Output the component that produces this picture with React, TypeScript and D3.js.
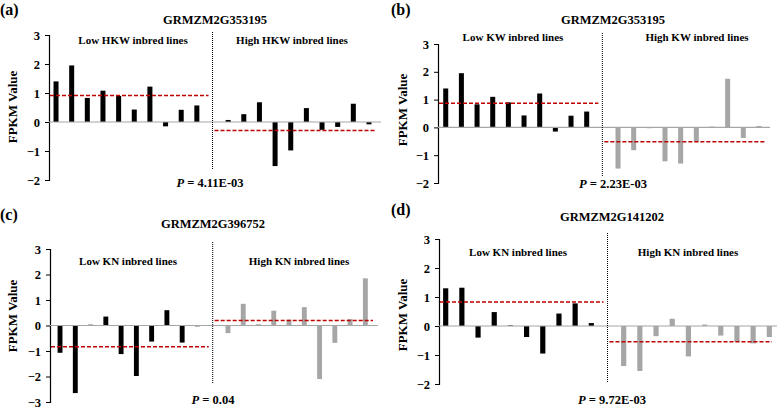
import React, { useEffect, useRef } from 'react';
import * as d3 from 'd3';

// panel texts
const panelTags = ['(a)', '(b)', '(c)', '(d)'];
const geneIds = ['GRMZM2G353195', 'GRMZM2G353195', 'GRMZM2G396752', 'GRMZM2G141202'];
const lowLabels = ['Low HKW inbred lines', 'Low KW inbred lines', 'Low KN inbred lines', 'Low KN inbred lines'];
const highLabels = ['High HKW inbred lines', 'High KW inbred lines', 'High KN inbred lines', 'High KN inbred lines'];
const pValues = ['4.11E-03', '2.23E-03', '0.04', '9.72E-03'];
const yLabel = 'FPKM Value';

// FPKM values
const lowA = [1.4, 1.95, 0.83, 1.08, 0.9, 0.43, 1.22, -0.15, 0.42, 0.57];
const highA = [0.07, 0.27, 0.68, -1.52, -0.98, 0.48, -0.27, -0.17, 0.63, -0.08];
const lowB = [1.4, 1.95, 0.83, 1.1, 0.9, 0.43, 1.22, -0.15, 0.42, 0.57];
const highB = [-1.48, -0.82, -0.03, -1.22, -1.3, -0.52, 0.03, 1.75, -0.38, 0.05];
const lowC = [-1.07, -2.65, 0.03, 0.35, -1.12, -1.98, -0.63, 0.6, -0.67, -0.03];
const highC = [-0.3, 0.85, 0.05, 0.58, 0.23, 0.72, -2.1, -0.68, 0.25, 1.85];
const lowD = [1.3, 1.32, -0.4, 0.48, 0.02, -0.38, -0.95, 0.43, 0.78, 0.1];
const highD = [-1.38, -1.55, -0.35, 0.25, -1.05, 0.05, -0.33, -0.55, -0.6, -0.38];

// group mean lines
const lowMeans = [0.91, 0.87, -0.83, 0.83];
const highMeans = [-0.29, -0.52, 0.2, -0.54];

const ticksABD = [3, 2, 1, 0, -1, -2];
const ticksC = [3, 2, 1, 0, -1, -2, -3];

const lowSeries = [lowA, lowB, lowC, lowD];
const highSeries = [highA, highB, highC, highD];
const tickSets = [ticksABD, ticksABD, ticksC, ticksABD];
const highColors = ['#000000', '#a6a6a6', '#a6a6a6', '#a6a6a6'];

// layout per panel (pixels)
const layout = [
  { x0: 49, x1: 381, b0: 48.2, b1: 376.8, yTop: 35, yBot: 180, divTop: 32, divBot: 170, tag: [0, 15], title: [215, 24], low: [133, 44], high: [292, 44], p: [210, 187], yl: [12, 107] },
  { x0: 438, x1: 770, b0: 437.9, b1: 766.8, yTop: 44, yBot: 183, divTop: 33, divBot: 177, tag: [391, 15], title: [613, 24], low: [513, 41], high: [697, 41], p: [613, 188], yl: [402, 110] },
  { x0: 50, x1: 378, b0: 52.4, b1: 373, yTop: 249, yBot: 402, divTop: 242, divBot: 384, tag: [0, 220], title: [213, 228], low: [128, 265], high: [299, 265], p: [213, 404], yl: [12, 316] },
  { x0: 439, x1: 777, b0: 437.6, b1: 777.4, yTop: 239, yBot: 384, divTop: 233, divBot: 383, tag: [391, 215], title: [612, 221], low: [518, 256], high: [688, 256], p: [612, 404], yl: [402, 315] },
];

const FONT = '"Liberation Serif", "Times New Roman", serif';

const App = () => {
  const ref = useRef<SVGSVGElement>(null);

  useEffect(() => {
    const svg = d3.select(ref.current);
    svg.selectAll('*').remove();
    svg.style('font-family', FONT);

    layout.forEach((L, i) => {
      const ticks = tickSets[i];
      const y = d3.scaleLinear()
        .domain([d3.min(ticks) as number, d3.max(ticks) as number])
        .range([L.yBot, L.yTop]);
      const x = d3.scaleBand<number>()
        .domain(d3.range(21))
        .range([L.b0, L.b1])
        .paddingInner(0.68)
        .paddingOuter(0.34);

      const data = [
        ...lowSeries[i].map((v, k) => ({ slot: k, v, color: '#000000' })),
        ...highSeries[i].map((v, k) => ({ slot: k + 11, v, color: highColors[i] })),
      ];

      const g = svg.append('g');

      // y axis
      const axis = g.append('g')
        .attr('transform', `translate(${L.x0},0)`)
        .call(d3.axisLeft(y).tickValues(ticks).tickSize(4).tickPadding(5).tickFormat(d3.format('d')))
        .attr('font-family', FONT);
      axis.select('.domain').attr('stroke', '#000').attr('stroke-width', 1.2);
      axis.selectAll('.tick line').attr('stroke', '#000');
      axis.selectAll('.tick text')
        .attr('fill', '#000')
        .attr('font-size', 12.5)
        .attr('font-weight', 'bold');

      // bars
      g.selectAll('rect.bar')
        .data(data)
        .enter().append('rect')
        .attr('class', 'bar')
        .attr('x', d => x(d.slot) as number)
        .attr('y', d => y(Math.max(0, d.v)))
        .attr('width', x.bandwidth())
        .attr('height', d => Math.abs(y(d.v) - y(0)))
        .attr('fill', d => d.color);

      // zero line
      g.append('line')
        .attr('x1', L.x0).attr('x2', L.x1)
        .attr('y1', y(0)).attr('y2', y(0))
        .attr('stroke', '#a6a6a6').attr('stroke-width', 1.2);

      // divider
      const divX = (x(10) as number) + x.bandwidth() / 2;
      g.append('line')
        .attr('x1', divX).attr('x2', divX)
        .attr('y1', L.divTop).attr('y2', L.divBot)
        .attr('stroke', '#000').attr('stroke-width', 1)
        .attr('stroke-dasharray', '1,1');

      // mean lines
      g.append('line')
        .attr('x1', L.x0 + 1).attr('x2', divX - 4)
        .attr('y1', y(lowMeans[i])).attr('y2', y(lowMeans[i]))
        .attr('stroke', '#c00000').attr('stroke-width', 1.5)
        .attr('stroke-dasharray', '4,2');
      g.append('line')
        .attr('x1', divX + 2).attr('x2', L.x1 - 5)
        .attr('y1', y(highMeans[i])).attr('y2', y(highMeans[i]))
        .attr('stroke', '#c00000').attr('stroke-width', 1.5)
        .attr('stroke-dasharray', '4,2');

      // texts
      g.append('text')
        .attr('x', L.tag[0]).attr('y', L.tag[1])
        .attr('font-size', 16).attr('font-weight', 'bold')
        .text(panelTags[i]);
      g.append('text')
        .attr('x', L.title[0]).attr('y', L.title[1])
        .attr('text-anchor', 'middle')
        .attr('font-size', 12.5).attr('font-weight', 'bold')
        .text(geneIds[i]);
      g.append('text')
        .attr('x', L.low[0]).attr('y', L.low[1])
        .attr('text-anchor', 'middle')
        .attr('font-size', 11).attr('font-weight', 'bold')
        .text(lowLabels[i]);
      g.append('text')
        .attr('x', L.high[0]).attr('y', L.high[1])
        .attr('text-anchor', 'middle')
        .attr('font-size', 11).attr('font-weight', 'bold')
        .text(highLabels[i]);

      const p = g.append('text')
        .attr('x', L.p[0]).attr('y', L.p[1])
        .attr('text-anchor', 'middle')
        .attr('font-size', 12.5).attr('font-weight', 'bold');
      p.append('tspan').attr('font-style', 'italic').text('P');
      p.append('tspan').text(` = ${pValues[i]}`);

      g.append('text')
        .attr('transform', `translate(${L.yl[0]},${L.yl[1]}) rotate(-90)`)
        .attr('text-anchor', 'middle')
        .attr('dominant-baseline', 'central')
        .attr('font-size', 13).attr('font-weight', 'bold')
        .text(yLabel);
    });
  }, []);

  return (
    <div style={{ position: 'absolute', left: 0, top: 0 }}>
      <svg ref={ref} width={778} height={412} style={{ display: 'block', background: '#fff' }} />
    </div>
  );
};

export default App;
